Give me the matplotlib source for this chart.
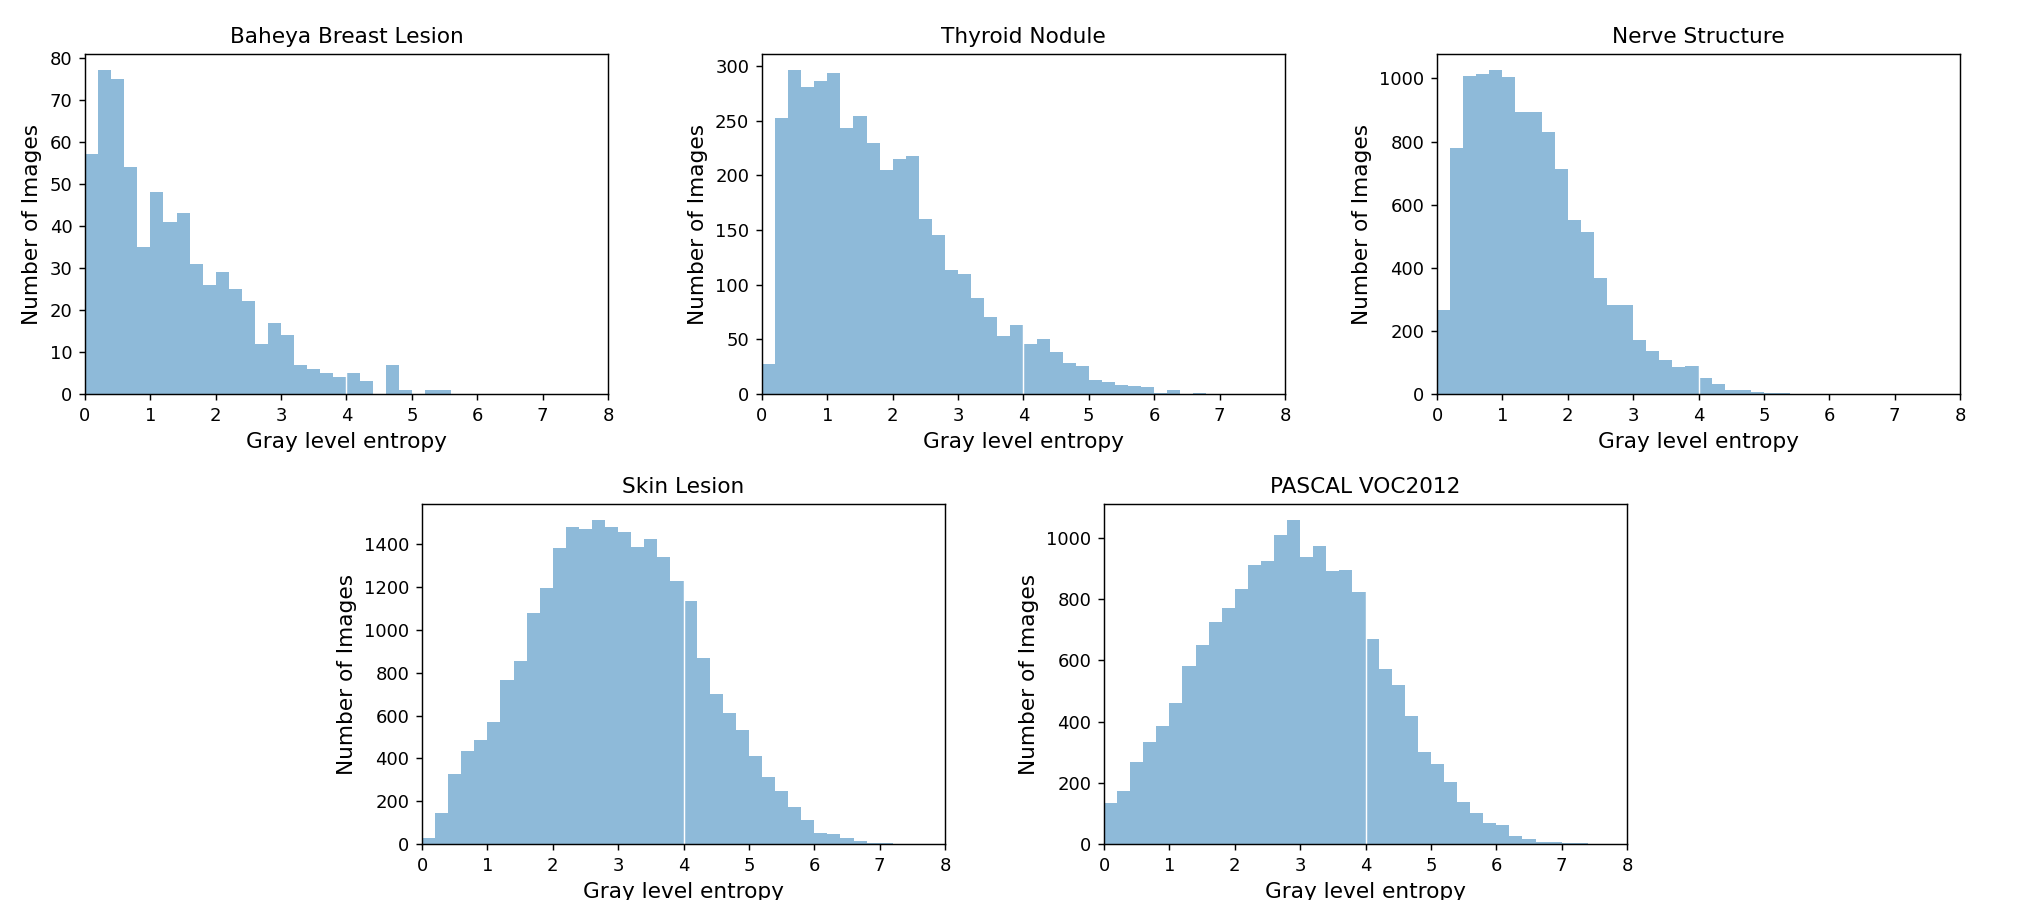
import numpy as np
import matplotlib

matplotlib.use("Agg")
import matplotlib.pyplot as plt

# histogram bins: 0..8, width 0.2
bin_edges = np.round(np.arange(0, 8.01, 0.2), 2)

baheya = [57, 77, 75, 54, 35, 48, 41, 43, 31, 26,
          29, 25, 22, 12, 17, 14, 7, 6, 5, 4,
          5, 3, 0, 7, 1, 0, 1, 1, 0, 0,
          0, 0, 0, 0, 0, 0, 0, 0, 0, 0]
thyroid = [27, 252, 296, 281, 286, 293, 243, 254, 229, 205,
           215, 218, 160, 145, 113, 110, 88, 70, 53, 63,
           46, 50, 38, 28, 26, 13, 11, 8, 7, 6,
           1, 4, 0, 1, 0, 0, 0, 0, 0, 0]
nerve = [266, 780, 1007, 1015, 1026, 1004, 894, 894, 830, 712,
         552, 513, 367, 281, 281, 171, 135, 107, 86, 89,
         50, 32, 14, 14, 7, 2, 2, 0, 0, 0,
         0, 0, 0, 0, 0, 0, 0, 0, 0, 0]
skin = [30, 146, 325, 434, 487, 571, 765, 854, 1080, 1196,
        1384, 1478, 1473, 1512, 1478, 1457, 1389, 1422, 1342, 1227,
        1137, 870, 702, 613, 534, 409, 313, 246, 171, 114,
        51, 45, 30, 14, 5, 3, 0, 0, 0, 0]
pascal = [135, 172, 268, 334, 385, 461, 583, 650, 726, 770,
          834, 913, 925, 1009, 1058, 939, 975, 891, 896, 825,
          670, 572, 520, 418, 300, 263, 201, 138, 102, 70,
          62, 25, 18, 8, 8, 3, 3, 0, 0, 0]

titles = ["Baheya Breast Lesion", "Thyroid Nodule", "Nerve Structure",
          "Skin Lesion", "PASCAL VOC2012"]
series = [baheya, thyroid, nerve, skin, pascal]

# axes rectangles (left, bottom, width, height) in figure fractions
rects = [
    [0.0419, 0.5622, 0.2579, 0.3778],
    [0.3757, 0.5622, 0.2579, 0.3778],
    [0.7086, 0.5622, 0.2579, 0.3778],
    [0.2081, 0.0622, 0.2579, 0.3778],
    [0.5444, 0.0622, 0.2579, 0.3778],
]

fig = plt.figure(figsize=(2028 / 130, 900 / 130), dpi=130)
centers = (bin_edges[:-1] + bin_edges[1:]) / 2

for rect, title, counts in zip(rects, titles, series):
    ax = fig.add_axes(rect)
    ax.hist(centers, bins=bin_edges, weights=counts, alpha=0.5, color="C0")
    ax.axvline(4, color="white", lw=0.8)
    ax.set_xlim(0, 8)
    ax.set_title(title, fontsize=12)
    ax.set_xlabel("Gray level entropy", fontsize=12)
    ax.set_ylabel("Number of Images", fontsize=12)

plt.savefig("out.png", dpi=130)
